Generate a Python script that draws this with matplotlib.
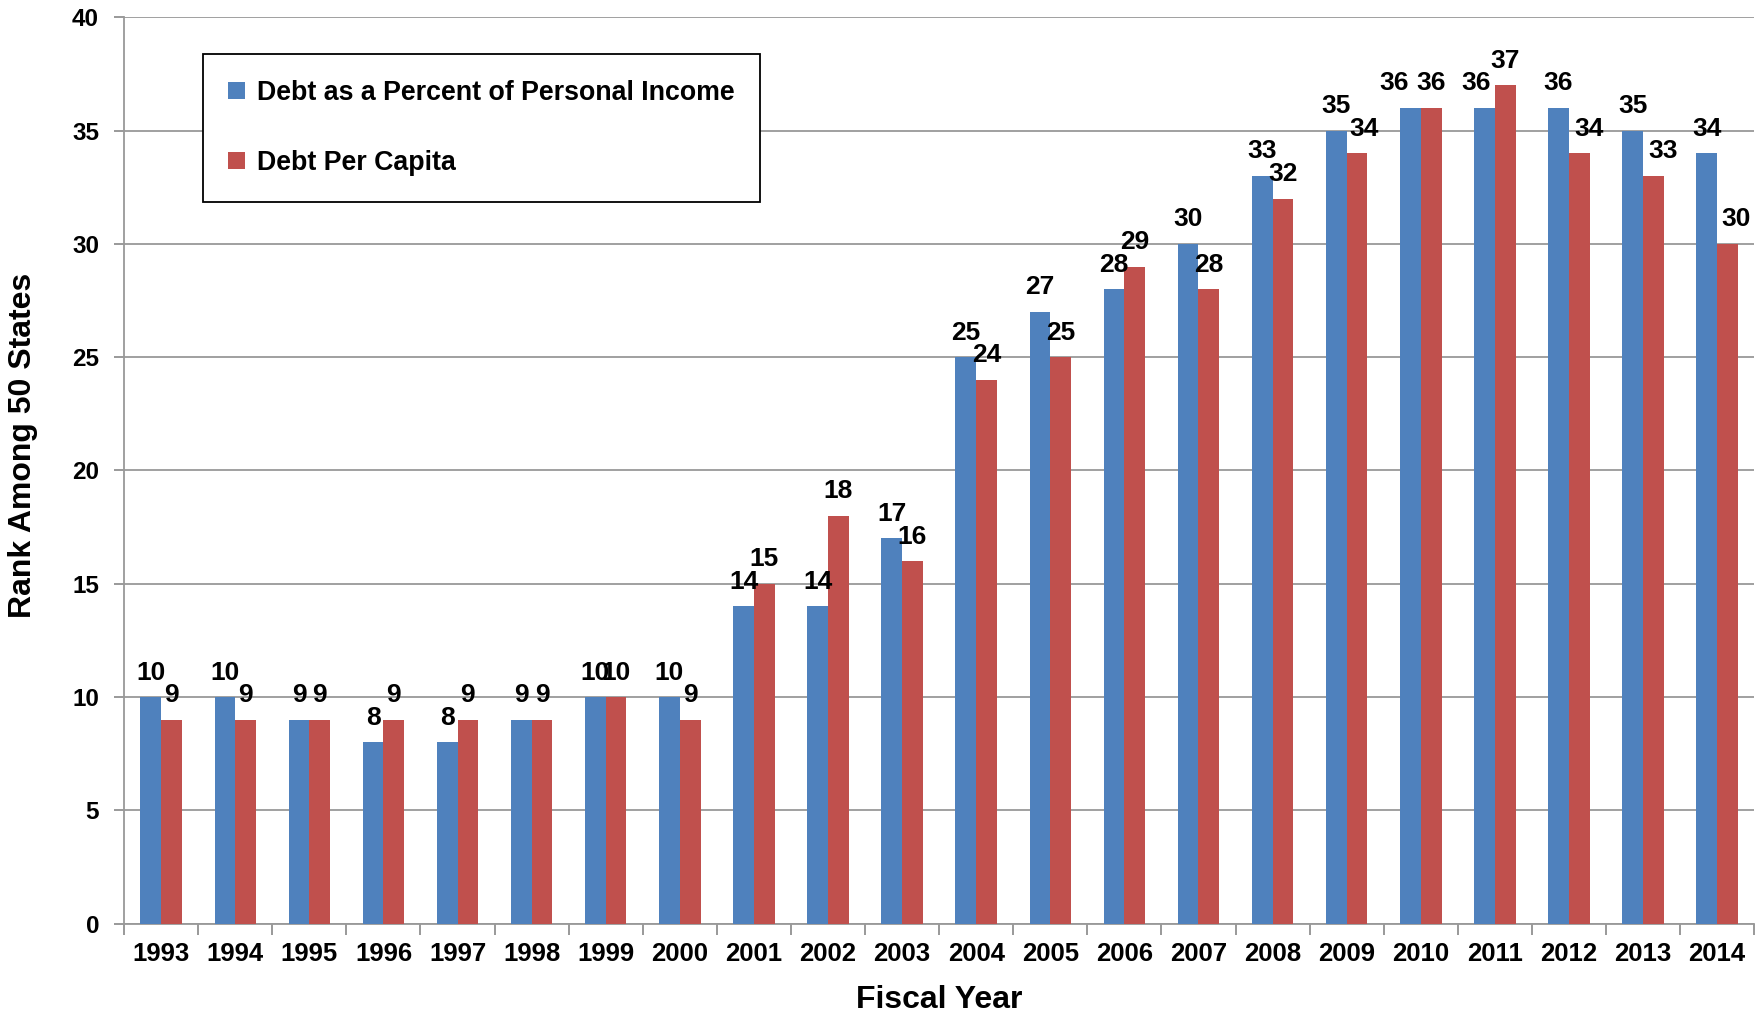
import matplotlib
matplotlib.use("Agg")
import matplotlib.pyplot as plt
import numpy as np
from matplotlib.ticker import FixedLocator

years = ["1993", "1994", "1995", "1996", "1997", "1998", "1999", "2000", "2001", "2002", "2003",
         "2004", "2005", "2006", "2007", "2008", "2009", "2010", "2011", "2012", "2013", "2014"]
pct_income = [10, 10, 9, 8, 8, 9, 10, 10, 14, 14, 17, 25, 27, 28, 30, 33, 35, 36, 36, 36, 35, 34]
per_capita = [9, 9, 9, 9, 9, 9, 10, 9, 15, 18, 16, 24, 25, 29, 28, 32, 34, 36, 37, 34, 33, 30]
series_names = ["Debt as a Percent of Personal Income", "Debt Per Capita"]
yticks = [0, 5, 10, 15, 20, 25, 30, 35, 40]

# horizontal nudges (in points) of individual value labels, as placed in the original
label_nudge_blue = {"2010": -12, "2011": -6}
label_nudge_red = {"2009": 5, "2012": 7, "2013": 7, "2014": 6}

plt.rcParams['font.family'] = ['Liberation Sans', 'DejaVu Sans']
plt.rcParams['font.weight'] = 'bold'

fig = plt.figure(figsize=(17.63, 10.14), dpi=100)
ax = fig.add_axes([0.0704, 0.089, 0.9246, 0.894])

x = np.arange(len(years))
w = 0.28
b1 = ax.bar(x - w/2, pct_income, w, color="#4F81BD", label=series_names[0], zorder=3)
b2 = ax.bar(x + w/2, per_capita, w, color="#C0504D", label=series_names[1], zorder=3)

for bars, vals, nudge in ((b1, pct_income, label_nudge_blue), (b2, per_capita, label_nudge_red)):
    for yr, r, v in zip(years, bars, vals):
        ax.annotate(str(v), (r.get_x() + r.get_width()/2, v),
                    xytext=(nudge.get(yr, 0), 9), textcoords="offset points",
                    ha="center", va="bottom", fontsize=19, fontweight="bold", zorder=4)

ax.set_xlim(-0.5, len(years) - 0.5)
ax.set_ylim(0, 40)
ax.set_yticks(yticks)
ax.set_yticklabels([str(t) for t in yticks], fontsize=17.5, fontweight="bold")
ax.set_xticks(x)
ax.set_xticklabels(years, fontsize=18.5, fontweight="bold")
ax.xaxis.set_minor_locator(FixedLocator(np.arange(-0.5, len(years), 1.0)))
ax.tick_params(axis="x", which="major", length=0, pad=13)
ax.tick_params(axis="x", which="minor", length=8, color="#888888", width=1.2)
ax.tick_params(axis="y", length=7, color="#888888", width=1.2, pad=11)

ax.grid(axis="y", color="#999999", linewidth=1.3, zorder=0)
for s in ("top", "right"):
    ax.spines[s].set_visible(False)
for s in ("left", "bottom"):
    ax.spines[s].set_color("#999999")
    ax.spines[s].set_linewidth(1.3)

ax.set_xlabel("Fiscal Year", fontsize=23, fontweight="bold", labelpad=14)
ax.set_ylabel("Rank Among 50 States", fontsize=23, fontweight="bold")
ax.yaxis.set_label_coords(-0.053, 0.528)

leg = ax.legend(loc="upper left", bbox_to_anchor=(0.0484, 0.959), fontsize=19.3,
                frameon=True, fancybox=False, edgecolor="black", framealpha=1,
                handlelength=0.6, handleheight=0.6, handletextpad=0.45,
                borderpad=0.95, labelspacing=1.65, borderaxespad=0)
leg.get_frame().set_linewidth(1.3)
for t in leg.get_texts():
    t.set_fontweight("bold")
leg.set_zorder(5)

fig.savefig("out.png", dpi=100)
